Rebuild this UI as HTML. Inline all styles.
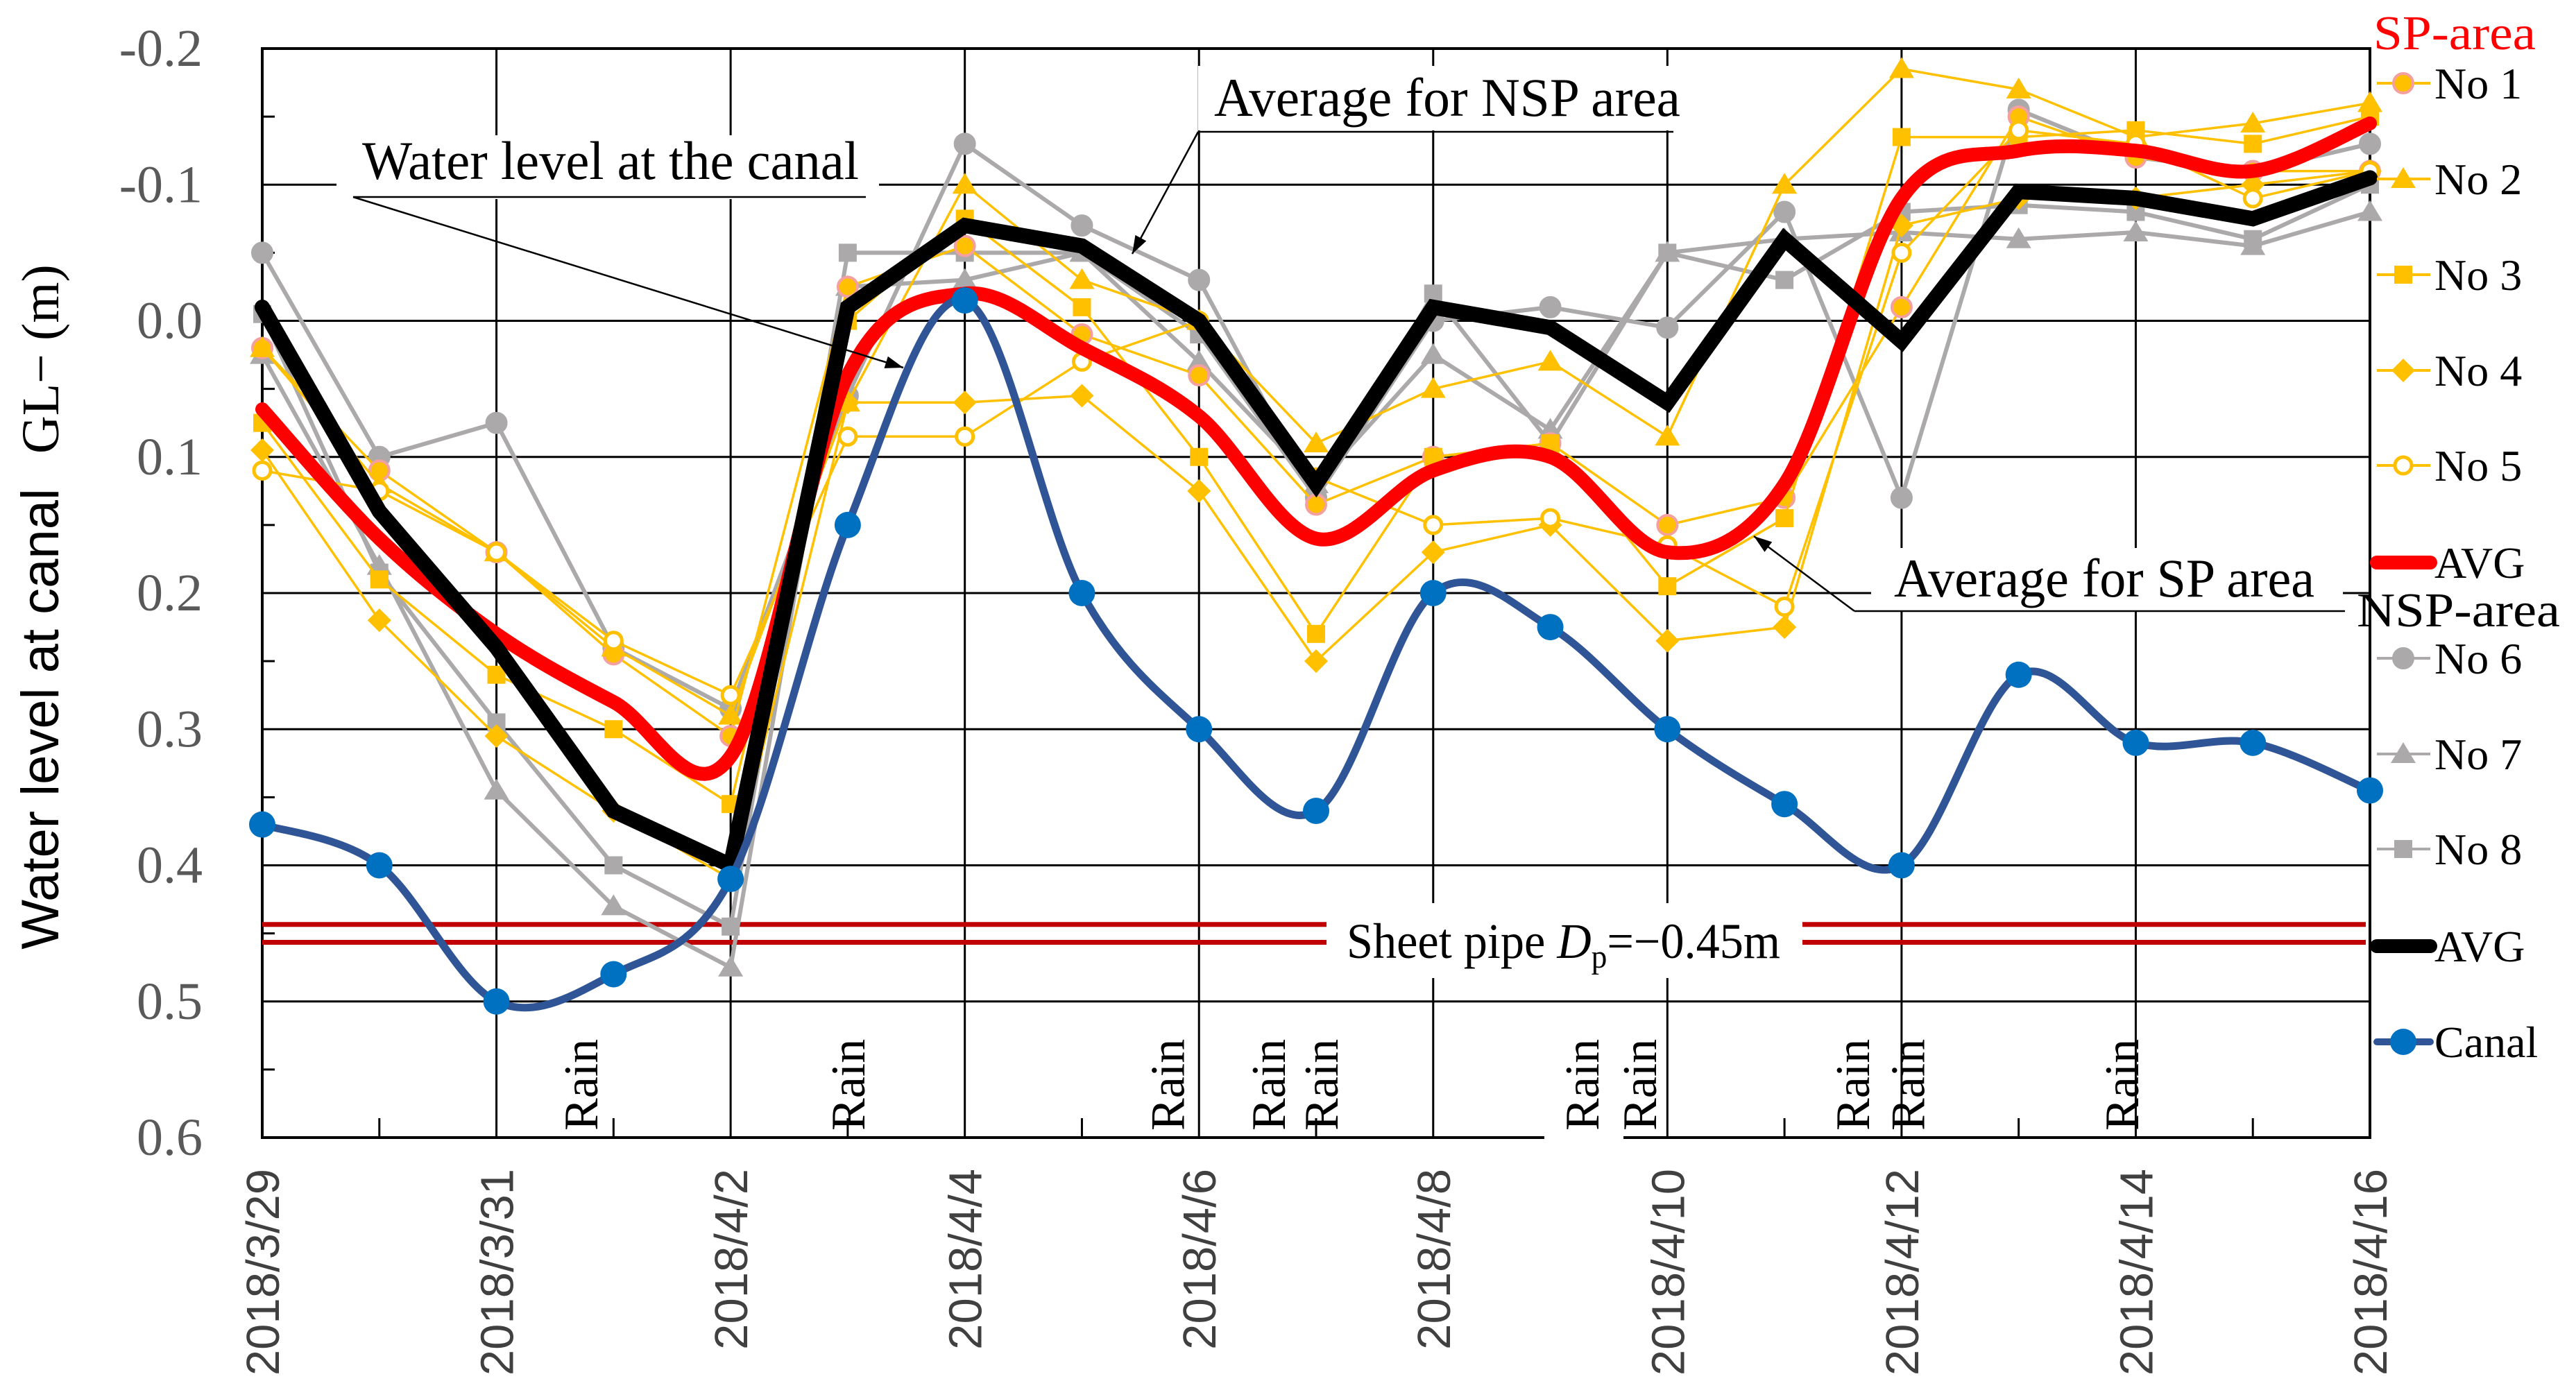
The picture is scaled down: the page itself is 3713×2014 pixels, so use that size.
<!DOCTYPE html>
<html><head><meta charset="utf-8"><style>
html,body{margin:0;padding:0;background:#fff;}
svg{display:block;}
</style></head><body>
<svg id="chart" width="3713" height="2014" viewBox="0 0 3713 2014" xmlns="http://www.w3.org/2000/svg" font-family="'Liberation Serif', serif">
<rect x="0" y="0" width="3713" height="2014" fill="#fff"/>
<g id="grid"></g><g id="series"></g><g id="overlay"></g>
</svg>
<script>
const dates=["2018/3/29","2018/3/30","2018/3/31","2018/4/1","2018/4/2","2018/4/3","2018/4/4","2018/4/5","2018/4/6","2018/4/7","2018/4/8","2018/4/9","2018/4/10","2018/4/11","2018/4/12","2018/4/13","2018/4/14","2018/4/15","2018/4/16"];
const yTicks=[-0.2,-0.1,0.0,0.1,0.2,0.3,0.4,0.5,0.6];
const no1=[0.02,0.11,0.17,0.245,0.305,-0.025,-0.055,0.01,0.04,0.135,0.10,0.09,0.15,0.13,-0.01,-0.15,-0.12,-0.11,-0.11];
const no2=[0.02,0.12,0.17,0.24,0.29,0.06,-0.10,-0.03,0.00,0.09,0.05,0.03,0.085,-0.10,-0.185,-0.17,-0.135,-0.145,-0.16];
const no3=[0.075,0.19,0.26,0.30,0.355,0.00,-0.075,-0.01,0.10,0.23,0.10,0.09,0.195,0.145,-0.135,-0.135,-0.14,-0.13,-0.15];
const no4=[0.095,0.22,0.305,0.36,0.41,0.06,0.06,0.055,0.125,0.25,0.17,0.15,0.235,0.225,-0.07,-0.09,-0.09,-0.10,-0.11];
const no5=[0.11,0.125,0.17,0.235,0.275,0.085,0.085,0.03,0.00,0.115,0.15,0.145,0.165,0.21,-0.05,-0.14,-0.13,-0.09,-0.11];
const no6=[-0.05,0.10,0.075,0.24,0.285,0.055,-0.13,-0.07,-0.03,0.13,0.0,-0.01,0.005,-0.08,0.13,-0.155,-0.12,-0.11,-0.13];
const no7=[0.025,0.18,0.345,0.43,0.475,-0.025,-0.03,-0.05,0.03,0.12,0.025,0.08,-0.05,-0.06,-0.065,-0.06,-0.065,-0.055,-0.08];
const no8=[-0.005,0.185,0.295,0.40,0.445,-0.05,-0.05,-0.05,0.01,0.13,-0.02,0.09,-0.05,-0.03,-0.08,-0.085,-0.08,-0.06,-0.10];
const spAvg=[0.065,0.16,0.23,0.28,0.32,0.04,-0.02,0.02,0.07,0.16,0.11,0.10,0.17,0.12,-0.09,-0.125,-0.125,-0.11,-0.145];
const nspAvg=[-0.01,0.14,0.24,0.36,0.40,-0.01,-0.07,-0.055,0.0,0.12,-0.01,0.005,0.06,-0.06,0.015,-0.095,-0.09,-0.075,-0.105];
const canal=[0.37,0.40,0.50,0.48,0.41,0.15,-0.015,0.20,0.30,0.36,0.20,0.225,0.30,0.355,0.40,0.26,0.31,0.31,0.345];
const rainDays=[2.72,5.0,7.73,8.59,9.04,11.27,11.76,13.58,14.05,15.88];
const sheetPipe=0.45;

const L=378,R=3416,T=70,B=1640;
const X=i=>L+(R-L)*i/(dates.length-1);
const Y=v=>T+(B-T)*(v-(-0.2))/0.8;
const NS="http://www.w3.org/2000/svg";
function mk(tag,attrs,parent,txt){const e=document.createElementNS(NS,tag);for(const k in attrs)e.setAttribute(k,attrs[k]);if(txt!==undefined)e.textContent=txt;parent.appendChild(e);return e;}
const grid=document.getElementById('grid'),ser=document.getElementById('series'),ov=document.getElementById('overlay');

yTicks.forEach((v,k)=>{
  if(k>0&&k<yTicks.length-1){const g=mk('line',{x1:L,x2:R,y1:Y(v),y2:Y(v),stroke:'#000','stroke-width':3},grid);
  
  }
  const t=mk('text',{x:292,y:Y(v)+25,'text-anchor':'end','font-size':76,fill:'#595959','font-family':"'Liberation Serif', serif"},grid,v.toFixed(1).replace('-0.0','0.0'));
  
  
});
for(let v=-0.15;v<0.6;v+=0.1){mk('line',{x1:L,x2:L+18,y1:Y(v),y2:Y(v),stroke:'#000','stroke-width':3},grid);}
dates.forEach((d,i)=>{
  if(i%2===0){
    if(i>0&&i<dates.length-1){const g=mk('line',{x1:X(i),x2:X(i),y1:T,y2:B,stroke:'#000','stroke-width':3},grid);
    
    }
    const t=mk('text',{x:0,y:0,transform:`translate(${X(i)+24},1685) rotate(-90)`,'text-anchor':'end','font-size':67,fill:'#404040','font-family':"'Liberation Sans', sans-serif"},grid,d);
    
    
  } else {
    mk('line',{x1:X(i),x2:X(i),y1:B,y2:B-28,stroke:'#000','stroke-width':3},grid);
  }
});
const fr=mk('rect',{x:L,y:T,width:R-L,height:B-T,fill:'none',stroke:'#000','stroke-width':4},grid);



[sheetPipe-0.0035,sheetPipe+0.0035].forEach((v,k)=>{
  const l=mk('line',{x1:L,x2:R-6,y1:Y(v)+(k?6:-6),y2:Y(v)+(k?6:-6),stroke:'#C00000','stroke-width':7},grid);
  
  
});
mk('rect',{x:1912,y:1302,width:686,height:108,fill:'#fff'},grid);
const sp=mk('text',{x:1941,y:1381,'font-size':72,fill:'#000','font-family':"'Liberation Serif', serif",textLength:625,lengthAdjust:'spacingAndGlyphs'},grid);


sp.innerHTML='Sheet pipe <tspan font-style="italic">D</tspan><tspan font-size="48" dy="14">p</tspan><tspan dy="-14">=−0.45m</tspan>';

mk('rect',{x:2226,y:1600,width:114,height:46,fill:'#fff'},grid);
rainDays.forEach(d=>{
  const t=mk('text',{x:0,y:0,transform:`translate(${X(d)+24},1630) rotate(-90)`,'font-size':70,fill:'#000','font-family':"'Liberation Serif', serif"},grid,'Rain');
  
  
});

function linePath(arr){return arr.map((v,i)=>(i?'L':'M')+X(i).toFixed(1)+','+Y(v).toFixed(1)).join(' ');}
function smoothPath(arr){
  const p=arr.map((v,i)=>[X(i),Y(v)]);let d='M'+p[0][0]+','+p[0][1];
  for(let i=0;i<p.length-1;i++){const a=p[i-1]||p[i],b=p[i],c=p[i+1],e=p[i+2]||c;
    const c1=[b[0]+(c[0]-a[0])/6,b[1]+(c[1]-a[1])/6],c2=[c[0]-(e[0]-b[0])/6,c[1]-(e[1]-b[1])/6];
    d+=` C${c1[0].toFixed(1)},${c1[1].toFixed(1)} ${c2[0].toFixed(1)},${c2[1].toFixed(1)} ${c[0].toFixed(1)},${c[1].toFixed(1)}`;}
  return d;}
function marker(shape,x,y,fill,stroke,g,r){
  r=r||14;let m;
  if(shape==='circle')m=mk('circle',{cx:x,cy:y,r:r,fill:fill,stroke:stroke,'stroke-width':4},g);
  else if(shape==='ring')m=mk('circle',{cx:x,cy:y,r:r-2,fill:'#fff',stroke:stroke,'stroke-width':5},g);
  else if(shape==='tri')m=mk('polygon',{points:`${x},${y-17} ${x+18},${y+13} ${x-18},${y+13}`,fill:fill},g);
  else if(shape==='sq')m=mk('rect',{x:x-13,y:y-13,width:26,height:26,fill:fill},g);
  else if(shape==='dia')m=mk('polygon',{points:`${x},${y-17} ${x+17},${y} ${x},${y+17} ${x-17},${y}`,fill:fill},g);
  return m;}
const YEL='#FFC000',GRY='#ABA9A9';
const defs=[
 {d:no6,c:GRY,s:'circle',f:GRY,st:GRY,w:6,n:'no6'},
 {d:no7,c:GRY,s:'tri',f:GRY,st:GRY,w:6,n:'no7'},
 {d:no8,c:GRY,s:'sq',f:GRY,st:GRY,w:6,n:'no8'},
 {d:no1,c:YEL,s:'circle',f:YEL,st:'#F4A0A0',w:3.5,n:'no1'},
 {d:no2,c:YEL,s:'tri',f:YEL,st:YEL,w:3.5,n:'no2'},
 {d:no3,c:YEL,s:'sq',f:YEL,st:YEL,w:3.5,n:'no3'},
 {d:no4,c:YEL,s:'dia',f:YEL,st:YEL,w:3.5,n:'no4'},
 {d:no5,c:YEL,s:'ring',f:'#fff',st:YEL,w:3.5,n:'no5'}];
defs.forEach(o=>{
  const g=mk('g',{},ser);
  
  
  mk('path',{d:linePath(o.d),fill:'none',stroke:o.c,'stroke-width':o.w,'stroke-linejoin':'round'},g);
  o.d.forEach((v,i)=>marker(o.s,X(i),Y(v),o.f,o.st,g));
});
const gr=mk('path',{d:smoothPath(spAvg),fill:'none',stroke:'#FF0000','stroke-width':20,'stroke-linecap':'round'},ser);


const gb=mk('path',{d:linePath(nspAvg),fill:'none',stroke:'#000','stroke-width':22,'stroke-linecap':'round','stroke-linejoin':'miter'},ser);


const gc=mk('g',{},ser);


mk('path',{d:smoothPath(canal),fill:'none',stroke:'#2F5597','stroke-width':11},gc);
canal.forEach((v,i)=>mk('circle',{cx:X(i),cy:Y(v),r:19,fill:'#0070C0'},gc));

function annot(name,bx,by,bw,bh,tx,ty,tw,txt,ux1,ux2,uy,ax1,ay1,ax2,ay2){
  const g=mk('g',{},ov);
  
  
  mk('rect',{x:bx,y:by,width:bw,height:bh,fill:'#fff'},g);
  mk('text',{x:tx,y:ty,'font-size':78,fill:'#000','font-family':"'Liberation Serif', serif",textLength:tw,lengthAdjust:'spacingAndGlyphs'},g,txt);
  mk('line',{x1:ux1,x2:ux2,y1:uy,y2:uy,stroke:'#000','stroke-width':2.5},g);
  mk('line',{x1:ax1,y1:ay1,x2:ax2,y2:ay2,stroke:'#000','stroke-width':2.5},g);
  const ang=Math.atan2(ay2-ay1,ax2-ax1),s=26,h=9;
  const p1=[ax2-s*Math.cos(ang)+h*Math.sin(ang),ay2-s*Math.sin(ang)-h*Math.cos(ang)],p2=[ax2-s*Math.cos(ang)-h*Math.sin(ang),ay2-s*Math.sin(ang)+h*Math.cos(ang)];
  mk('polygon',{points:`${ax2},${ay2} ${p1[0]},${p1[1]} ${p2[0]},${p2[1]}`,fill:'#000'},g);
}
annot('canal-annotation',485,195,782,92,522,258,716,'Water level at the canal',509,1248,284,509,284,1302,530);
annot('nsp-annotation',1727,95,700,93,1750,167,672,'Average for NSP area',1727,2412,190,1727,190,1632,366);
annot('sp-annotation',2697,790,680,90,2730,860,606,'Average for SP area',2673,3380,881,2673,881,2528,773);

const yt=mk('text',{x:0,y:0,transform:'translate(84,875) rotate(-90)','text-anchor':'middle','font-size':76,fill:'#000'},ov);


yt.innerHTML='<tspan font-family="\'Liberation Sans\', sans-serif">Water level at canal</tspan><tspan dx="50" font-family="\'Liberation Serif\', serif">GL− (m)</tspan>';

const lg=mk('g',{},ov);


const h1=mk('text',{x:3421,y:71,'font-size':70,fill:'#FF0000',textLength:234,lengthAdjust:'spacingAndGlyphs'},lg,'SP-area');


const h2=mk('text',{x:3397,y:903,'font-size':70,fill:'#000',textLength:293,lengthAdjust:'spacingAndGlyphs'},lg,'NSP-area');


const legItems=[
 ['No 1',120,'circle',YEL,'#F4A0A0',YEL,4],['No 2',258,'tri',YEL,YEL,YEL,4],['No 3',396,'sq',YEL,YEL,YEL,4],
 ['No 4',534,'dia',YEL,YEL,YEL,4],['No 5',671,'ring','#fff',YEL,YEL,4],['AVG',811,null,null,null,'#FF0000',20],
 ['No 6',949,'circle',GRY,GRY,GRY,4],['No 7',1087,'tri',GRY,GRY,GRY,4],['No 8',1224,'sq',GRY,GRY,GRY,4],
 ['AVG',1364,null,null,null,'#000',20],['Canal',1502,'canal',null,null,'#2F5597',10]];
legItems.forEach(it=>{
  const g=mk('g',{},lg);
  
  
  mk('line',{x1:3426,x2:3503,y1:it[1],y2:it[1],stroke:it[5],'stroke-width':it[6],'stroke-linecap':it[6]>8?'round':'butt'},g);
  if(it[2]==='canal')mk('circle',{cx:3464,cy:it[1],r:19,fill:'#0070C0'},g);
  else if(it[2])marker(it[2],3464,it[1],it[3],it[4],g);
  mk('text',{x:3509,y:it[1]+22,'font-size':64,fill:'#000'},g,it[0]);
});
</script>
</body></html>
